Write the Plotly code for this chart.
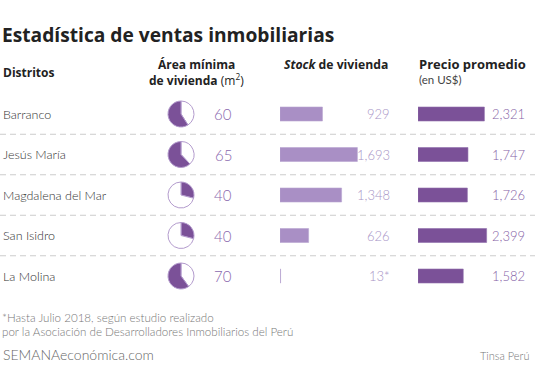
import plotly.graph_objects as go

W, H = 535, 386

districts = ["Barranco", "Jesús María", "Magdalena del Mar", "San Isidro", "La Molina"]
area_min = [60, 65, 40, 40, 70]
pie_share = [0.59, 0.62, 0.29, 0.29, 0.60]   # filled share of each pie, as drawn
stock = [929, 1693, 1348, 626, 13]
stock_labels = ["929", "1,693", "1,348", "626", "13*"]
price = [2321, 1747, 1726, 2399, 1582]
price_labels = ["2,321", "1,747", "1,726", "2,399", "1,582"]

PURPLE = "#7b5198"
LIGHT = "#a98fc5"
FONT = "Lato"
HFONT = "Open Sans"

ROW0, ROWH = 114, 40.5          # pixel centre of first row, row pitch
def py_to_y(py):
    return (py - ROW0) / ROWH
def px(x):
    return x / W
def pyp(y):
    return 1 - y / H

n = len(districts)
rows = list(range(n))

fig = go.Figure()

# stock bars
fig.add_trace(go.Bar(
    x=stock, y=rows, orientation="h", xaxis="x2", yaxis="y",
    marker=dict(color=LIGHT, line=dict(color="#b9a6d2", width=0.6)),
    width=14 / ROWH, hoverinfo="skip", showlegend=False))
# price bars
fig.add_trace(go.Bar(
    x=price, y=rows, orientation="h", xaxis="x3", yaxis="y",
    marker=dict(color=PURPLE, line=dict(color="#9070ad", width=0.6)),
    width=14 / ROWH, hoverinfo="skip", showlegend=False))

# pies (filled part grows from 12 o'clock: left side when large, right side when small)
R = 13
for i in rows:
    cy = ROW0 + ROWH * i
    share = pie_share[i]
    if share >= 0.5:
        vals, cols = [1 - share, share], ["white", PURPLE]
    else:
        vals, cols = [share, 1 - share], [PURPLE, "white"]
    fig.add_trace(go.Pie(
        values=vals, sort=False, direction="clockwise",
        marker=dict(colors=cols, line=dict(color="#b39bcd", width=1)),
        textinfo="none", hoverinfo="skip", showlegend=False,
        domain=dict(x=[px(181 - R), px(181 + R)], y=[pyp(cy + R), pyp(cy - R)])))

ann = []
def text(x, y, s, size, color, xanchor="left", weight=300, yref="paper", family=FONT):
    ann.append(dict(x=x, y=y, xref="paper", yref=yref, text=s, showarrow=False,
                    xanchor=xanchor, yanchor="middle",
                    font=dict(family=family, size=size, color=color, weight=weight)))

# title + headers
text(px(0), pyp(35), "Estadística de ventas inmobiliarias", 19.2, "#222", weight=700, family=HFONT)
text(px(1), pyp(72), "Distritos", 12, "#222", weight=700, family=HFONT)
text(px(196), pyp(64), "Área mínima", 12, "#222", xanchor="center", weight=700, family=HFONT)
text(px(196), pyp(80), "<b>de vivienda</b> (m<sup>2</sup>)", 12, "#222", xanchor="center", weight=400, family=HFONT)
text(px(282), pyp(64), "<i>Stock</i> de vivienda", 12.2, "#222", weight=700, family=HFONT)
text(px(417), pyp(64), "Precio promedio", 13, "#222", weight=700, family=HFONT)
text(px(417), pyp(79), "(en US$)", 11.5, "#444", weight=400)

for i in rows:
    text(px(1), i, districts[i], 12.5, "#333", yref="y")
    text(px(223), i, str(area_min[i]), 15, "#8a68ae", xanchor="center", yref="y")
    text(px(392), i, stock_labels[i], 13, "#a794c6", xanchor="right", yref="y")
    text(px(527), i, price_labels[i], 13, "#8561a6", xanchor="right", yref="y")

text(px(0), pyp(317), "*Hasta Julio 2018, según estudio realizado", 11.6, "#777")
text(px(0), pyp(331), "por la Asociación de Desarrolladores Inmobiliarios del Perú", 11.6, "#777")
text(px(1), pyp(354), "SEMANAeconómica.com", 14, "#666")
text(px(532), pyp(355), "Tinsa Perú", 11, "#777", xanchor="right")

shapes = []
for i in rows[:-1]:
    shapes.append(dict(type="line", xref="paper", yref="y", x0=0, x1=1, y0=i + 0.5, y1=i + 0.5,
                       line=dict(color="#cccccc", width=1, dash="6px,4px")))

fig.update_layout(
    width=W, height=H, margin=dict(l=0, r=0, t=0, b=0),
    paper_bgcolor="white", plot_bgcolor="rgba(0,0,0,0)",
    annotations=ann, shapes=shapes, barmode="overlay",
    xaxis=dict(visible=False),
    yaxis=dict(domain=[0, 1], range=[py_to_y(H), py_to_y(0)], visible=False, fixedrange=True),
    xaxis2=dict(domain=[px(280), px(280 + 0.0457 * 2000)], range=[0, 2000], visible=False, anchor="y"),
    xaxis3=dict(domain=[px(418), px(418 + 0.0286 * 2500)], range=[0, 2500], visible=False, anchor="y"),
)

fig.write_html("out.html", config={"displayModeBar": False},
               post_script="document.body.style.margin='0';document.body.style.overflow='hidden';")
